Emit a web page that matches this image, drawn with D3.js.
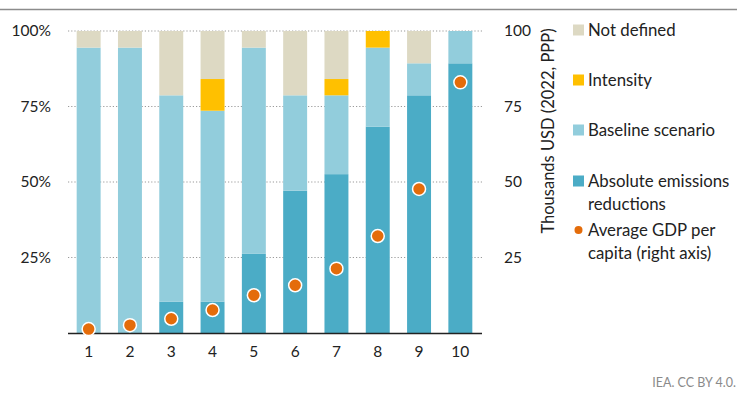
<!DOCTYPE html>
<html>
<head>
<meta charset="utf-8">
<script src="https://cdn.jsdelivr.net/npm/d3@7"></script>
<style>
  body { margin: 0; background: white; }
  text { font-family: Lato, "Open Sans", sans-serif; }
</style>
</head>
<body>
<script>
// chart values
const groups = ["1", "2", "3", "4", "5", "6", "7", "8", "9", "10"];
const absolute = [0, 0, 10.4, 10.4, 26.2, 47.1, 52.6, 68.3, 78.7, 89.3];
const baseline = [94.5, 94.5, 68.3, 63.2, 68.3, 31.6, 26.1, 26.2, 10.6, 10.7];
const intensity = [0, 0, 0, 10.5, 0, 0, 5.4, 5.5, 0, 0];
const notDefined = [5.5, 5.5, 21.3, 15.9, 5.5, 21.3, 15.9, 0, 10.7, 0];
const gdp = [1.3, 2.6, 4.7, 7.6, 12.5, 15.8, 21.3, 32.1, 47.7, 83.0];
const leftTicks = [25, 50, 75, 100];
const rightTicks = [25, 50, 75, 100];

const colors = {
    absolute: "#4bacc6",
    baseline: "#92cddc",
    intensity: "#ffc000",
    notDefined: "#ddd9c3",
    dot: "#e46c0a"
};

const W = 755, H = 398;

const svg = d3.select("body")
    .append("svg")
    .attr("width", W)
    .attr("height", H);

const x = d3.scaleBand()
    .domain(groups)
    .range([68, 481])
    .paddingInner(0.42)
    .paddingOuter(0.21);

const y = d3.scaleLinear().domain([0, 100]).range([333, 31]);
const yR = d3.scaleLinear().domain([0, 100]).range([333, 31]);

// top rule
svg.append("line")
    .attr("x1", 0).attr("x2", 737)
    .attr("y1", 9.5).attr("y2", 9.5)
    .attr("stroke", "#8c8c8c")
    .attr("stroke-width", 1.5);

// dotted gridlines
svg.append("g")
    .selectAll("line")
    .data(leftTicks)
    .join("line")
    .attr("x1", 68).attr("x2", 482)
    .attr("y1", d => y(d)).attr("y2", d => y(d))
    .attr("stroke", "#9a9a9a")
    .attr("stroke-width", 1.2)
    .attr("stroke-dasharray", "1.2,2");

// stacked bars
const keys = ["absolute", "baseline", "intensity", "notDefined"];
const rows = groups.map((g, i) => ({
    group: g,
    absolute: absolute[i],
    baseline: baseline[i],
    intensity: intensity[i],
    notDefined: notDefined[i]
}));
const stack = d3.stack().keys(keys)(rows);

svg.append("g")
    .selectAll("g")
    .data(stack)
    .join("g")
    .attr("fill", d => colors[d.key])
    .selectAll("rect")
    .data(d => d)
    .join("rect")
    .attr("x", d => x(d.data.group))
    .attr("width", x.bandwidth())
    .attr("y", d => y(d[1]))
    .attr("height", d => y(d[0]) - y(d[1]));

// x axis line
svg.append("line")
    .attr("x1", 68).attr("x2", 482)
    .attr("y1", 333.5).attr("y2", 333.5)
    .attr("stroke", "#222")
    .attr("stroke-width", 1.5);

// x labels
svg.append("g")
    .selectAll("text")
    .data(groups)
    .join("text")
    .attr("x", d => x(d) + x.bandwidth() / 2)
    .attr("y", 352)
    .attr("dy", "0.35em")
    .attr("text-anchor", "middle")
    .attr("font-size", "15.5px")
    .attr("fill", "#222")
    .text(d => d);

// left axis labels
svg.append("g")
    .selectAll("text")
    .data(leftTicks)
    .join("text")
    .attr("x", 51)
    .attr("y", d => y(d))
    .attr("dy", "0.35em")
    .attr("text-anchor", "end")
    .attr("font-size", "15.5px")
    .attr("fill", "#222")
    .text(d => d + "%");

// right axis labels
svg.append("g")
    .selectAll("text")
    .data(rightTicks)
    .join("text")
    .attr("x", 504)
    .attr("y", d => yR(d))
    .attr("dy", "0.35em")
    .attr("text-anchor", "start")
    .attr("font-size", "15.5px")
    .attr("fill", "#222")
    .text(d => d);

svg.append("text")
    .attr("transform", "translate(548,131) rotate(-90)")
    .attr("text-anchor", "middle")
    .attr("dy", "0.35em")
    .attr("font-size", "16.5px")
    .attr("fill", "#222")
    .text("Thousands USD (2022, PPP)");

// GDP dots
svg.append("g")
    .selectAll("circle")
    .data(gdp)
    .join("circle")
    .attr("cx", (d, i) => x(groups[i]) + x.bandwidth() / 2)
    .attr("cy", d => yR(d))
    .attr("r", 6.5)
    .attr("fill", colors.dot)
    .attr("stroke", "white")
    .attr("stroke-width", 1.5);

// legend
const legend = [
    { key: "notDefined", lines: ["Not defined"], y: 30 },
    { key: "intensity", lines: ["Intensity"], y: 80 },
    { key: "baseline", lines: ["Baseline scenario"], y: 130 },
    { key: "absolute", lines: ["Absolute emissions", "reductions"], y: 181 },
    { key: "dot", lines: ["Average GDP per", "capita (right axis)"], y: 230 }
];

const lg = svg.append("g");
legend.forEach(d => {
    if (d.key === "dot") {
        lg.append("circle")
            .attr("cx", 578.5).attr("cy", d.y)
            .attr("r", 4)
            .attr("fill", colors.dot);
    } else {
        lg.append("rect")
            .attr("x", 573).attr("y", d.y - 5.5)
            .attr("width", 11).attr("height", 11)
            .attr("fill", colors[d.key]);
    }
    d.lines.forEach((t, j) => {
        lg.append("text")
            .attr("x", 588)
            .attr("y", d.y + j * 23)
            .attr("dy", "0.35em")
            .attr("font-size", "16.8px")
            .attr("fill", "#222")
            .text(t);
    });
});

// credit
svg.append("text")
    .attr("x", 736)
    .attr("y", 383)
    .attr("dy", "0.35em")
    .attr("text-anchor", "end")
    .attr("font-size", "12.5px")
    .attr("fill", "#8a8a8a")
    .text("IEA. CC BY 4.0.");
</script>
</body>
</html>
